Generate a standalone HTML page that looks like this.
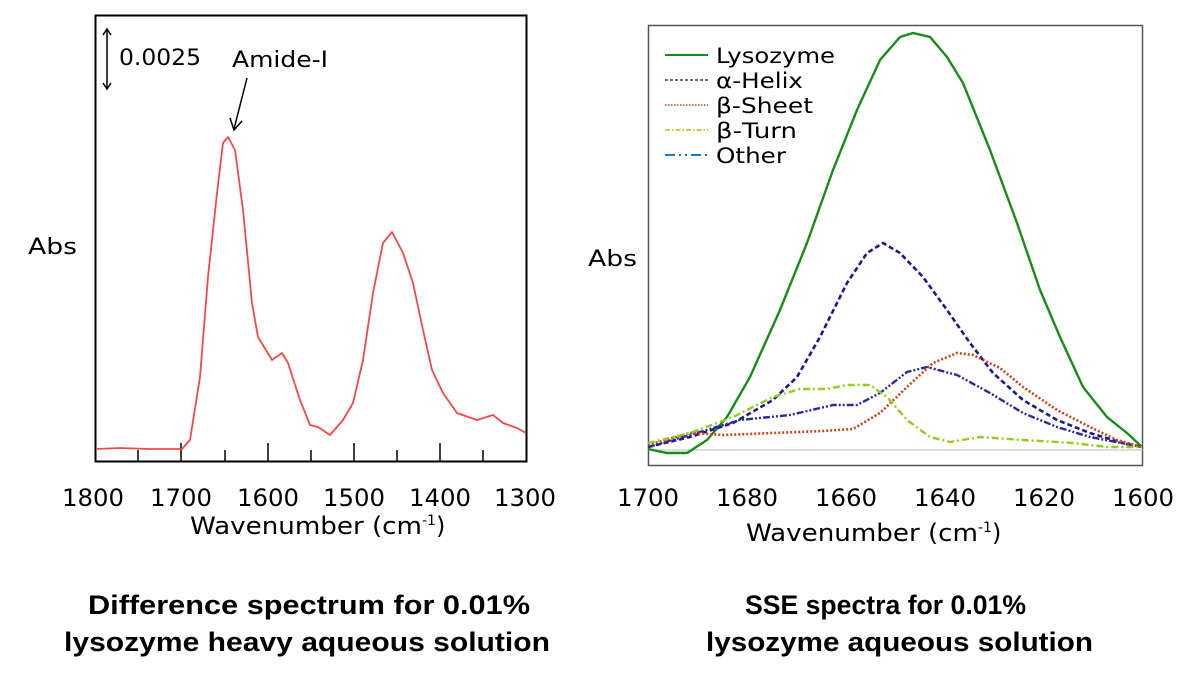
<!DOCTYPE html>
<html><head><style>
body{margin:0;background:#fff;}
svg{display:block;font-family:"DejaVu Sans","Liberation Sans",sans-serif;}
</style></head><body>
<svg width="1200" height="675" viewBox="0 0 1200 675" xmlns="http://www.w3.org/2000/svg">
<!-- LEFT -->
<rect x="95.5" y="15.5" width="431" height="446" fill="none" stroke="#000" stroke-width="2"/>
<g stroke="#000" stroke-width="1.5">
<line x1="138" y1="450" x2="138" y2="462"/><line x1="181" y1="443" x2="181" y2="462"/>
<line x1="225" y1="450" x2="225" y2="462"/><line x1="268" y1="443" x2="268" y2="462"/>
<line x1="311" y1="450" x2="311" y2="462"/><line x1="354" y1="443" x2="354" y2="462"/>
<line x1="397" y1="450" x2="397" y2="462"/><line x1="440" y1="443" x2="440" y2="462"/>
<line x1="483" y1="450" x2="483" y2="462"/>
</g>
<polyline fill="none" stroke="#f24a4a" stroke-width="1.8" stroke-linejoin="round" points="96,449 120,448 150,449 182,449 190,440 200,377 208,277 217,193 223,143 228,137 235,150 243,210 252,303 258,337 272,360 282,353 288,363 300,400 310,425 318,427 330,435 343,420 353,403 363,360 373,293 383,243 392,232 403,253 413,283 423,330 432,370 443,393 457,413 477,420 493,415 503,423 517,428 526,433"/>
<line x1="107" y1="30" x2="107" y2="88" stroke="#000" stroke-width="1.5"/>
<polyline points="103,35 107,29 111,35" fill="none" stroke="#000" stroke-width="1.5"/>
<polyline points="103,83 107,89 111,83" fill="none" stroke="#000" stroke-width="1.5"/>
<text x="119" y="65" font-size="22" textLength="82" lengthAdjust="spacingAndGlyphs">0.0025</text>
<text x="232" y="67" font-size="22" textLength="96" lengthAdjust="spacingAndGlyphs">Amide-I</text>
<line x1="247" y1="78" x2="234" y2="129" stroke="#000" stroke-width="1.5"/>
<polyline points="230,118 234,130 242,121" fill="none" stroke="#000" stroke-width="1.5"/>
<text x="28" y="254" font-size="22" textLength="49" lengthAdjust="spacingAndGlyphs">Abs</text>
<g font-size="24">
<text x="62" y="506" textLength="62" lengthAdjust="spacingAndGlyphs">1800</text>
<text x="150" y="506" textLength="62" lengthAdjust="spacingAndGlyphs">1700</text>
<text x="237" y="506" textLength="62" lengthAdjust="spacingAndGlyphs">1600</text>
<text x="323" y="506" textLength="62" lengthAdjust="spacingAndGlyphs">1500</text>
<text x="409" y="506" textLength="62" lengthAdjust="spacingAndGlyphs">1400</text>
<text x="494" y="506" textLength="62" lengthAdjust="spacingAndGlyphs">1300</text>
</g>
<text x="190" y="534" font-size="24"><tspan textLength="232" lengthAdjust="spacingAndGlyphs">Wavenumber (cm</tspan><tspan font-size="14" dy="-9">-1</tspan><tspan dy="9">)</tspan></text>
<!-- RIGHT -->
<rect x="648.5" y="25.5" width="494" height="440" fill="none" stroke="#555" stroke-width="1.5"/>
<line x1="648" y1="450" x2="1143" y2="450" stroke="#bbb" stroke-width="1"/>
<polyline fill="none" stroke="#1a8a1a" stroke-width="2.4" points="648,449 667,453 687,453 707,440 727,417 750,377 780,310 807,243 833,170 857,110 880,60 900,37 913,33 930,37 947,57 963,83 990,150 1017,223 1040,290 1060,337 1083,387 1107,417 1127,433 1142,447"/>
<polyline fill="none" stroke="#1a1a8c" stroke-width="2.6" stroke-dasharray="5,3" points="648,447 690,437 733,423 773,400 797,377 820,337 847,283 867,253 883,243 900,253 923,277 947,310 970,343 993,373 1023,400 1057,420 1090,433 1123,443 1142,447"/>
<polyline fill="none" stroke="#2a2a9a" stroke-width="2.4" stroke-dasharray="7,2,2,2,2,2" points="648,447 690,435 740,420 790,415 833,405 857,405 880,393 907,372 927,367 957,375 990,393 1023,413 1057,427 1090,437 1142,447"/>
<polyline fill="none" stroke="#c4461c" stroke-width="2.6" stroke-dasharray="2,2" points="648,445 690,433 723,435 773,433 823,431 853,429 880,413 907,387 933,363 957,353 973,355 1000,368 1023,387 1057,410 1090,427 1117,440 1142,447"/>
<polyline fill="none" stroke="#92cc1e" stroke-width="2.4" stroke-dasharray="7,3,2,3" points="648,443 690,433 733,417 773,397 800,389 827,389 847,385 870,385 887,397 907,420 930,437 950,442 980,437 1023,440 1073,443 1107,447 1142,447"/>
<line x1="665" y1="55" x2="708" y2="55" stroke="#1a8a1a" stroke-width="2"/>
<line x1="665" y1="80" x2="708" y2="80" stroke="#1f3a8a" stroke-width="1.5" stroke-dasharray="3,2"/>
<line x1="665" y1="105" x2="708" y2="105" stroke="#c4461c" stroke-width="1.5" stroke-dasharray="1.5,1.5"/>
<line x1="665" y1="130" x2="708" y2="130" stroke="#92cc1e" stroke-width="1.5" stroke-dasharray="5,2,1.5,2"/>
<line x1="665" y1="155" x2="708" y2="155" stroke="#1a7ad0" stroke-width="2" stroke-dasharray="10,4,2,4,2,4"/>
<g font-size="21">
<text x="716" y="63" textLength="119" lengthAdjust="spacingAndGlyphs">Lysozyme</text>
<text x="716" y="88" textLength="87" lengthAdjust="spacingAndGlyphs">α-Helix</text>
<text x="716" y="113" textLength="97" lengthAdjust="spacingAndGlyphs">β-Sheet</text>
<text x="716" y="138" textLength="81" lengthAdjust="spacingAndGlyphs">β-Turn</text>
<text x="716" y="163" textLength="70" lengthAdjust="spacingAndGlyphs">Other</text>
</g>
<text x="588" y="266" font-size="22" textLength="49" lengthAdjust="spacingAndGlyphs">Abs</text>
<g font-size="24">
<text x="617" y="506" textLength="62" lengthAdjust="spacingAndGlyphs">1700</text>
<text x="716" y="506" textLength="62" lengthAdjust="spacingAndGlyphs">1680</text>
<text x="815" y="506" textLength="62" lengthAdjust="spacingAndGlyphs">1660</text>
<text x="914" y="506" textLength="62" lengthAdjust="spacingAndGlyphs">1640</text>
<text x="1013" y="506" textLength="62" lengthAdjust="spacingAndGlyphs">1620</text>
<text x="1112" y="506" textLength="62" lengthAdjust="spacingAndGlyphs">1600</text>
</g>
<text x="746" y="541" font-size="24"><tspan textLength="232" lengthAdjust="spacingAndGlyphs">Wavenumber (cm</tspan><tspan font-size="14" dy="-9">-1</tspan><tspan dy="9">)</tspan></text>
<g font-size="27" font-weight="bold" font-family="Liberation Sans, sans-serif">
<text x="88" y="614" textLength="442" lengthAdjust="spacingAndGlyphs">Difference spectrum for 0.01%</text>
<text x="64" y="651" textLength="486" lengthAdjust="spacingAndGlyphs">lysozyme heavy aqueous solution</text>
<text x="745" y="614" textLength="281" lengthAdjust="spacingAndGlyphs">SSE spectra for 0.01%</text>
<text x="706" y="651" textLength="387" lengthAdjust="spacingAndGlyphs">lysozyme aqueous solution</text>
</g>
</svg>
</body></html>
